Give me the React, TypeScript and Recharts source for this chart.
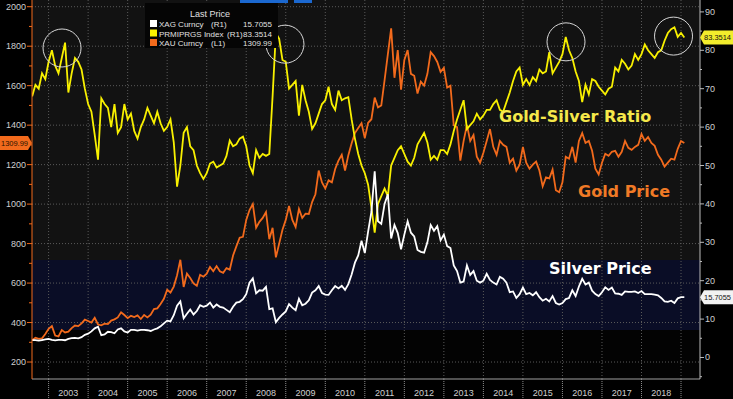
import React from "react";
import {
  LineChart,
  Line,
  XAxis,
  YAxis,
  CartesianGrid,
  ReferenceDot,
} from "recharts";

// monthly samples, first one is Aug 2002, last one is early Feb 2019
const START_YEAR = 2002;
const START_MONTH = 8;

// XAU Curncy (L1)
const GOLD = [
  310, 323, 317, 320, 342,
  368, 382, 334, 330, 362, 350, 354, 372, 385, 382, 396, 415,
  408, 400, 424, 390, 386, 394, 392, 410, 416, 426, 452, 438,
  422, 434, 428, 436, 418, 438, 426, 440, 468, 472, 494, 520,
  566, 552, 582, 640, 718, 580, 648, 626, 598, 586, 642, 632,
  648, 682, 660, 686, 660, 652, 676, 668, 740, 786, 830, 834,
  920, 970, 1000, 880, 910, 930, 960, 822, 880, 730, 800, 870,
  920, 990, 920, 884, 976, 930, 952, 950, 1010, 1050, 1170, 1110,
  1080, 1120, 1110, 1178, 1220, 1250, 1170, 1248, 1308, 1360, 1386, 1410,
  1334, 1412, 1430, 1540, 1490, 1500, 1628, 1760, 1890, 1640, 1780, 1580,
  1730, 1780, 1660, 1650, 1560, 1620, 1600, 1660, 1770, 1750, 1720, 1670,
  1690, 1590, 1600, 1400, 1390, 1220, 1320, 1400, 1320, 1350, 1240, 1210,
  1260, 1320, 1380, 1290, 1250, 1320, 1300, 1290, 1210, 1230, 1170, 1200,
  1290, 1210, 1180, 1200, 1215, 1170, 1090, 1135, 1130, 1175, 1070, 1060,
  1110, 1240, 1230, 1290, 1210, 1320, 1360, 1310, 1320, 1270, 1180, 1150,
  1210, 1255, 1245, 1265, 1270, 1240, 1265, 1320, 1285, 1275, 1290, 1300,
  1355, 1320, 1340, 1310, 1295, 1250, 1225, 1190, 1210, 1230, 1225, 1280,
  1320, 1309.99,
];

// XAG Curncy (R1)
const SILVER = [
  4.55, 4.55, 4.4, 4.55, 4.7,
  4.85, 4.6, 4.45, 4.6, 4.6, 4.5, 4.85, 5.05, 5.1, 5.0, 5.3, 5.9,
  6.2, 6.8, 7.6, 8.0, 5.8, 6.0, 6.7, 6.6, 6.3, 7.3, 7.6, 6.8,
  6.5, 7.2, 7.2, 7.0, 7.2, 7.2, 7.1, 6.9, 7.3, 7.6, 8.1, 8.9,
  9.6, 9.4, 11.0, 13.5, 14.6, 10.2, 11.4, 12.5, 11.2, 12.1, 13.6, 13.2,
  13.5, 14.3, 13.0, 13.8, 13.2, 13.0, 12.4, 11.8, 13.2, 14.3, 14.5, 15.2,
  16.5, 19.5, 20.6, 16.7, 17.5, 17.4, 18.4, 12.6, 12.8, 9.2, 10.3, 11.2,
  12.0, 13.9, 13.0, 12.3, 15.3, 13.6, 14.0, 14.9, 16.9, 17.5, 18.6, 16.8,
  16.4, 16.3, 17.5, 18.6, 18.0, 18.7, 17.6, 19.1, 21.6, 24.7, 26.6, 30.4,
  27.2, 32.8, 37.9, 48.5, 35.5, 34.8, 40.0, 42.5, 31.0, 34.5, 32.4, 28.2,
  32.0, 35.5, 32.5, 31.5, 28.0, 27.5, 27.3, 30.0, 34.5, 33.0, 34.2, 30.5,
  32.0, 29.0, 28.5, 24.0, 22.5, 19.5, 19.8, 24.0, 21.5, 22.5, 20.0, 19.5,
  20.0, 21.8, 20.2, 19.5, 19.0, 21.0, 20.5, 19.5, 17.0, 17.2, 15.5, 16.5,
  18.2, 16.5, 16.8, 16.2, 17.0, 15.7, 14.8, 15.3, 14.6, 16.0, 14.2, 13.8,
  14.2, 15.2, 15.5, 17.5, 16.0, 18.5, 20.5, 19.0, 19.5, 17.4, 16.5, 16.0,
  17.0, 18.3, 17.6, 18.2, 16.7, 16.6, 16.3, 17.2, 17.1, 17.1, 17.2, 16.8,
  17.3, 16.5, 16.5, 16.5, 16.4, 16.2, 15.5, 14.6, 14.5, 14.8, 14.2, 15.4,
  15.7, 15.7055,
];

// PRMIPRGS Index (R1) - gold/silver ratio
const RATIO = [
  68, 71, 70, 74, 72.5,
  77, 80, 76, 74, 78, 82, 69, 74, 78, 77, 75, 70,
  66, 64, 58, 51.5, 67.5, 66, 65, 60, 66, 58.5, 60, 66,
  62, 63.5, 59, 57, 60, 62, 65, 63, 61, 64, 61, 59,
  60, 62, 56, 44.5, 50, 58.5, 60, 55, 54, 50, 48, 46.5,
  48, 50.5, 51, 49.5, 50, 50.5, 52.5, 56.5, 55, 55.5, 57, 57.5,
  55, 50, 48, 54, 52, 53, 52.5, 53, 68, 84.5, 83, 77.5,
  77, 70, 71, 72, 63, 71, 67, 64, 59.5, 61, 63.5, 66,
  67, 70.5, 66, 64.5, 69.5, 67, 67.5, 67.8, 62, 57, 53, 50,
  48, 45, 39, 32.5, 40, 42, 44, 42, 50, 52, 54, 55,
  53, 51, 50, 52, 55.5, 57, 58.5, 56, 51.5, 52.5, 51.5, 54,
  54, 53, 55.5, 59, 62, 64.5, 67, 59.5, 60.5, 61.5, 63.5, 62,
  63, 64.5, 64.5, 66, 67, 64.5, 64, 66.5, 69, 72, 74.5, 75.5,
  71, 72.5, 71, 73, 72, 75, 74, 74.5, 79.5, 74, 75.5, 77,
  79, 83.5, 80, 78, 74.5, 72, 66.5, 71, 68.5, 72.5, 72, 70.5,
  69.5, 68.5, 70, 70.5, 75.5, 74.5, 77.5, 76.5, 75, 76, 79, 77.5,
  79, 81.5, 80, 79, 78, 79.5, 80, 82.5, 84.5, 85.5, 86, 83.5,
  84.5, 83.3514,
];

const YEAR_STARTS = [2003, 2004, 2005, 2006, 2007, 2008, 2009, 2010, 2011, 2012, 2013, 2014, 2015, 2016, 2017, 2018, 2019];
const YEAR_LABELS = [2003, 2004, 2005, 2006, 2007, 2008, 2009, 2010, 2011, 2012, 2013, 2014, 2015, 2016, 2017, 2018];
const LEFT_TICKS = [200, 300, 400, 500, 600, 700, 800, 900, 1000, 1100, 1200, 1300, 1400, 1500, 1600, 1700, 1800, 1900, 2000];
const LEFT_GRID = [200, 400, 600, 800, 1000, 1200, 1400, 1600, 1800, 2000];
const RIGHT_TICKS = [-5, 0, 5, 10, 15, 20, 25, 30, 35, 40, 45, 50, 55, 60, 65, 70, 75, 80, 85, 90];
// circled ratio highs (decimal year, ratio)
const HIGHS = [
  [2003.34, 80.6],
  [2008.98, 81.6],
  [2016.09, 82.2],
  [2018.81, 83.7],
];

const data = GOLD.map((g, i) => ({
  t: START_YEAR + (START_MONTH - 1 + i) / 12,
  gold: g,
  silver: SILVER[i],
  ratio: RATIO[i],
}));

const W = 733;
const H = 399;
const LEFT_W = 32;
const RIGHT_W = 33;
const X_H = 20;
const X_MIN = 2002.58;
const X_MAX = 2019.48;
const PLOT_W = W - LEFT_W - RIGHT_W;
const PLOT_H = H - X_H;
const HALF_YEAR = PLOT_W / (X_MAX - X_MIN) / 2;

const ORANGE = "#f26a1c";
const YELLOW = "#f8f000";
const WHITE = "#ffffff";
const LABEL = "#cfcfcf";
const FONT = "'Liberation Sans', Arial, sans-serif";

function LeftTick({ x, y, payload }: any) {
  const major = payload.value % 200 === 0;
  return (
    <g>
      <line x1={x} x2={x - (major ? 5 : 3)} y1={y} y2={y} stroke={ORANGE} />
      {major && (
        <text x={x - 6} y={y + 3} textAnchor="end" fill={LABEL} fontSize={9} fontFamily={FONT}>
          {payload.value}
        </text>
      )}
    </g>
  );
}

function RightTick({ x, y, payload }: any) {
  const major = payload.value % 10 === 0;
  return (
    <g>
      <line x1={x} x2={x + (major ? 4 : 2)} y1={y} y2={y} stroke="#bbb" />
      {major && (
        <text x={x + 5} y={y + 3} textAnchor="start" fill={LABEL} fontSize={9} fontFamily={FONT}>
          {payload.value}
        </text>
      )}
    </g>
  );
}

function YearTick({ x, y, payload }: any) {
  const yr = payload.value;
  return (
    <g>
      <line x1={x} x2={x} y1={y} y2={y + X_H} stroke="#8a8a8a" strokeDasharray="1 1" />
      {YEAR_LABELS.includes(yr) && (
        <text x={x + HALF_YEAR} y={y + 17} textAnchor="middle" fill={LABEL} fontSize={9} fontFamily={FONT}>
          {yr}
        </text>
      )}
    </g>
  );
}

function Badge({ cx, cy, side, fill, color, text }: any) {
  const h = 7;
  const pts =
    side === "left"
      ? `0,${cy - h} ${cx - 4},${cy - h} ${cx},${cy} ${cx - 4},${cy + h} 0,${cy + h}`
      : `${cx},${cy} ${cx + 4},${cy - h} ${W},${cy - h} ${W},${cy + h} ${cx + 4},${cy + h}`;
  return (
    <g>
      <polygon points={pts} fill={fill} />
      <text
        x={side === "left" ? 1 : cx + 4}
        y={cy + 3}
        fill={color}
        fontSize={8}
        fontFamily={FONT}
        textLength={27}
        lengthAdjust="spacingAndGlyphs"
      >
        {text}
      </text>
    </g>
  );
}

const LEGEND = [
  { name: "XAG Curncy", axis: "(R1)", value: SILVER[SILVER.length - 1], color: WHITE, nx: 211 },
  { name: "PRMIPRGS Index", axis: "(R1)", value: RATIO[RATIO.length - 1], color: YELLOW, nx: 227 },
  { name: "XAU Curncy", axis: "(L1)", value: GOLD[GOLD.length - 1], color: ORANGE, nx: 211 },
];

// plot background: dark grey, a navy band, black at the bottom
function Backdrop() {
  return (
    <svg width={W} height={H} style={{ position: "absolute", left: 0, top: 0 }}>
      <rect x={0} y={0} width={W} height={H} fill="#000" />
      <rect x={LEFT_W} y={0} width={PLOT_W} height={260} fill="#121212" />
      <rect x={LEFT_W} y={260} width={PLOT_W} height={70} fill="#0a0d26" />
      <rect x={LEFT_W} y={330} width={PLOT_W} height={PLOT_H - 330} fill="#030303" />
    </svg>
  );
}

function Overlay() {
  return (
    <svg
      width={W}
      height={H}
      style={{ position: "absolute", left: 0, top: 0, pointerEvents: "none" }}
      fontFamily={FONT}
    >
      <rect x={240} y={0} width={48} height={3} fill="#1b68d0" />
      <rect x={294} y={0} width={18} height={3} fill="#1b68d0" />
      <rect x={145} y={3} width={133} height={45} fill="#050505" />
      <text x={210} y={17} textAnchor="middle" fill="#e0e0e0" fontSize={9}>
        Last Price
      </text>
      {LEGEND.map((l, i) => (
        <g key={l.name} fill="#e0e0e0" fontSize={8}>
          <rect x={150} y={20 + i * 9.5} width={7} height={7} fill={l.color} />
          <text x={159} y={27 + i * 9.5}>{l.name}</text>
          <text x={l.nx} y={27 + i * 9.5}>{l.axis}</text>
          <text x={272} y={27 + i * 9.5} textAnchor="end">{l.value}</text>
        </g>
      ))}
      <g fontFamily="'DejaVu Sans', sans-serif" fontWeight="bold" fontSize={16}>
        <text x={499} y={122} fill="#f5e84a">Gold-Silver Ratio</text>
        <text x={578} y={197} fill="#f07a26">Gold Price</text>
        <text x={549} y={274} fill={WHITE}>Silver Price</text>
      </g>
    </svg>
  );
}

export default function App() {
  return (
    <div style={{ position: "absolute", left: 0, top: 0, width: W, height: H, background: "#000" }}>
      <Backdrop />
      <LineChart width={W} height={H} data={data} margin={{ top: 0, right: 0, bottom: 0, left: 0 }}>
        <CartesianGrid
          yAxisId="left"
          stroke="#5a5a5a"
          strokeDasharray="1 2"
          horizontalValues={LEFT_GRID}
          verticalValues={YEAR_STARTS}
        />
        <XAxis
          dataKey="t"
          type="number"
          domain={[X_MIN, X_MAX]}
          allowDataOverflow
          ticks={YEAR_STARTS}
          interval={0}
          height={X_H}
          stroke="#a0a0a0"
          tickLine={false}
          tickSize={0}
          tickMargin={0}
          tick={<YearTick />}
        />
        <YAxis
          yAxisId="left"
          orientation="left"
          width={LEFT_W}
          domain={[114, 2034]}
          allowDataOverflow
          ticks={LEFT_TICKS}
          interval={0}
          stroke={ORANGE}
          tickLine={false}
          tickSize={0}
          tickMargin={0}
          tick={<LeftTick />}
        />
        <YAxis
          yAxisId="right"
          orientation="right"
          width={RIGHT_W}
          domain={[-5.6, 93.1]}
          allowDataOverflow
          ticks={RIGHT_TICKS}
          interval={0}
          stroke="#bbbbbb"
          tickLine={false}
          tickSize={0}
          tickMargin={0}
          tick={<RightTick />}
        />
        <Line yAxisId="left" dataKey="gold" stroke={ORANGE} strokeWidth={1.8} dot={false} isAnimationActive={false} />
        <Line yAxisId="right" dataKey="ratio" stroke={YELLOW} strokeWidth={1.8} dot={false} isAnimationActive={false} />
        <Line yAxisId="right" dataKey="silver" stroke={WHITE} strokeWidth={1.8} dot={false} isAnimationActive={false} />
        {HIGHS.map(([hx, hy]) => (
          <ReferenceDot
            key={hx}
            yAxisId="right"
            x={hx}
            y={hy}
            r={19}
            fill="none"
            stroke="#d8d8d8"
            strokeWidth={1}
            ifOverflow="visible"
          />
        ))}
        <ReferenceDot
          yAxisId="left"
          x={X_MIN}
          y={GOLD[GOLD.length - 1]}
          ifOverflow="visible"
          shape={(p: any) => (
            <Badge cx={p.cx} cy={p.cy} side="left" fill={ORANGE} color="#2a1200" text={GOLD[GOLD.length - 1]} />
          )}
        />
        <ReferenceDot
          yAxisId="right"
          x={X_MAX}
          y={RATIO[RATIO.length - 1]}
          ifOverflow="visible"
          shape={(p: any) => (
            <Badge cx={p.cx} cy={p.cy} side="right" fill="#f2ec2c" color="#111" text={RATIO[RATIO.length - 1]} />
          )}
        />
        <ReferenceDot
          yAxisId="right"
          x={X_MAX}
          y={SILVER[SILVER.length - 1]}
          ifOverflow="visible"
          shape={(p: any) => (
            <Badge cx={p.cx} cy={p.cy} side="right" fill="#f2f2f2" color="#111" text={SILVER[SILVER.length - 1]} />
          )}
        />
      </LineChart>
      <Overlay />
    </div>
  );
}
